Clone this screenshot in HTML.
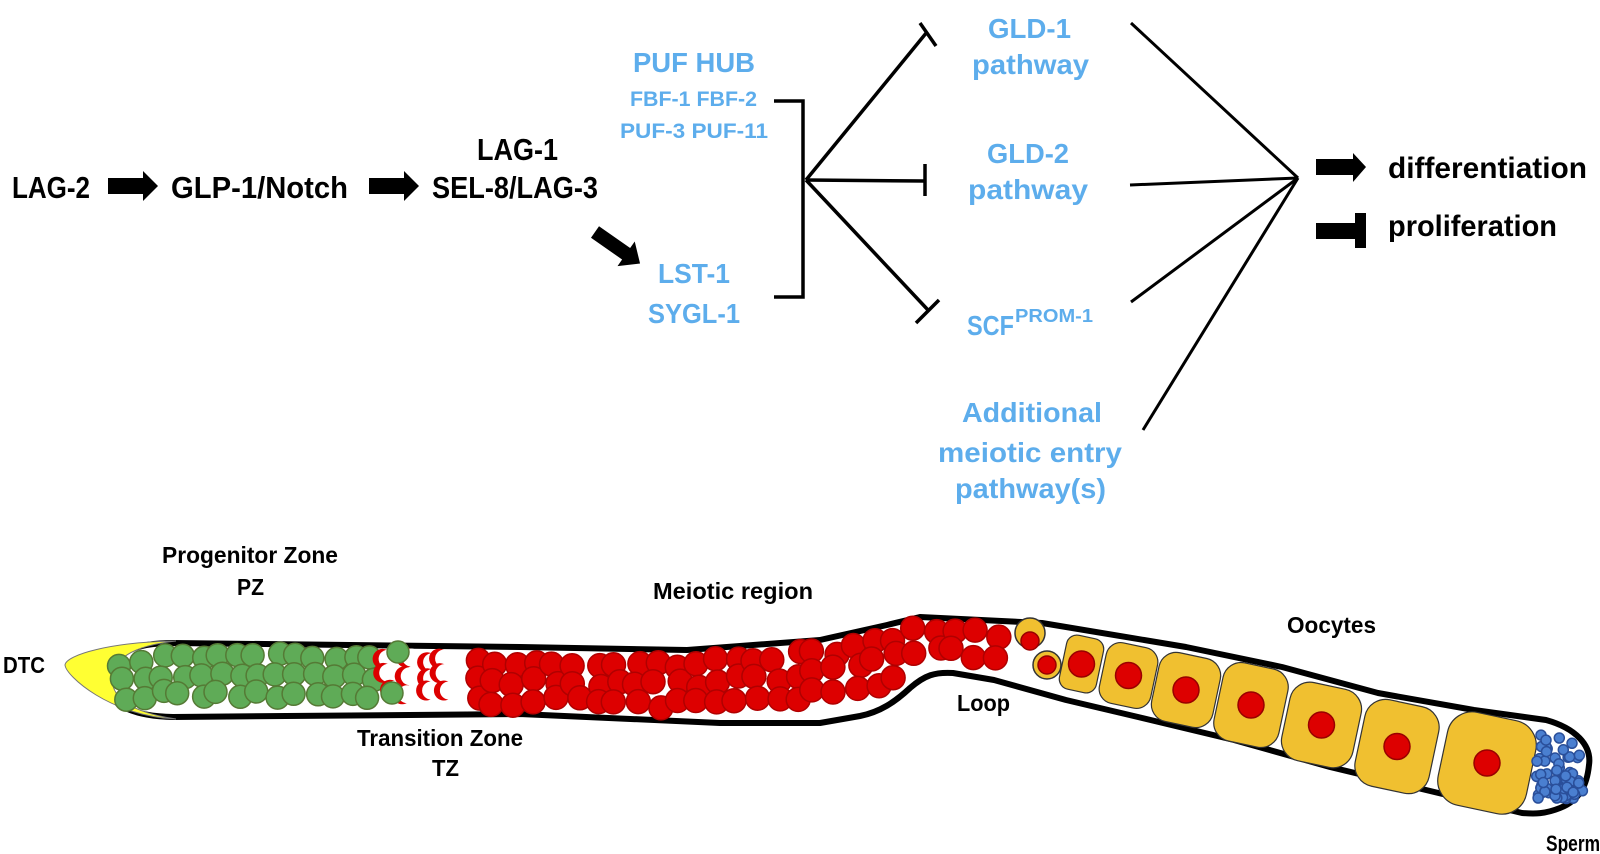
<!DOCTYPE html>
<html><head><meta charset="utf-8"><style>
html,body{margin:0;padding:0;background:#fff;}
svg{display:block;}
text{font-family:"Liberation Sans",sans-serif;font-weight:bold;}
.b{fill:#5DADEC;}
.k{fill:#000;}
</style></head><body>
<svg id="s" width="1600" height="854" viewBox="0 0 1600 854" xmlns="http://www.w3.org/2000/svg">
<g stroke="#000" fill="none" stroke-width="3.5">
<polyline points="774,101 803,101 803,297 774,297"/>
<line x1="806" y1="180" x2="927" y2="32"/>
<line x1="920" y1="23" x2="936" y2="46"/>
<line x1="806" y1="180" x2="925" y2="181"/>
<line x1="925" y1="164" x2="925" y2="196"/>
<line x1="806" y1="180" x2="928" y2="310"/>
<line x1="916" y1="323" x2="939" y2="300"/>
<g stroke-width="3">
<line x1="1131" y1="23" x2="1298" y2="178"/>
<line x1="1130" y1="185" x2="1298" y2="178"/>
<line x1="1131" y1="302" x2="1298" y2="178"/>
<line x1="1143" y1="430" x2="1298" y2="178"/>
</g>
</g>
<g fill="#000">
<polygon points="108,178 143,178 143,171 158,186 143,201 143,194 108,194"/>
<polygon points="369,178 404,178 404,171 419,186 404,201 404,194 369,194"/>
<polygon transform="translate(595,232) rotate(35)" points="0,-7 38,-7 38,-15 55,0 38,15 38,7 0,7"/>
<polygon points="1316,159 1353,159 1353,153 1366,167 1353,182 1353,175 1316,175"/>
<rect x="1316" y="223" width="42" height="16"/>
<rect x="1355" y="213" width="11" height="35"/>
</g>
<g class="k">
<text x="12" y="198" font-size="31" textLength="78" lengthAdjust="spacingAndGlyphs">LAG-2</text>
<text x="171" y="198" font-size="31" textLength="177" lengthAdjust="spacingAndGlyphs">GLP-1/Notch</text>
<text x="477" y="160" font-size="31" textLength="81" lengthAdjust="spacingAndGlyphs">LAG-1</text>
<text x="432" y="198" font-size="31" textLength="166" lengthAdjust="spacingAndGlyphs">SEL-8/LAG-3</text>
<text x="1388" y="178" font-size="30" textLength="199" lengthAdjust="spacingAndGlyphs">differentiation</text>
<text x="1388" y="236" font-size="30" textLength="169" lengthAdjust="spacingAndGlyphs">proliferation</text>
<text x="162" y="563" font-size="23" textLength="176" lengthAdjust="spacingAndGlyphs">Progenitor Zone</text>
<text x="237" y="595" font-size="23" textLength="27" lengthAdjust="spacingAndGlyphs">PZ</text>
<text x="3" y="673" font-size="23" textLength="42" lengthAdjust="spacingAndGlyphs">DTC</text>
<text x="653" y="599" font-size="23" textLength="160" lengthAdjust="spacingAndGlyphs">Meiotic region</text>
<text x="357" y="746" font-size="23" textLength="166" lengthAdjust="spacingAndGlyphs">Transition Zone</text>
<text x="432" y="776" font-size="23" textLength="27" lengthAdjust="spacingAndGlyphs">TZ</text>
<text x="957" y="711" font-size="23" textLength="53" lengthAdjust="spacingAndGlyphs">Loop</text>
<text x="1287" y="633" font-size="23" textLength="89" lengthAdjust="spacingAndGlyphs">Oocytes</text>
<text x="1546" y="851" font-size="22" textLength="54" lengthAdjust="spacingAndGlyphs">Sperm</text>
</g>
<g class="b">
<text x="633" y="72" font-size="28" textLength="122" lengthAdjust="spacingAndGlyphs">PUF HUB</text>
<text x="630" y="106" font-size="21" textLength="127" lengthAdjust="spacingAndGlyphs">FBF-1 FBF-2</text>
<text x="620" y="138" font-size="21" textLength="148" lengthAdjust="spacingAndGlyphs">PUF-3 PUF-11</text>
<text x="658" y="283" font-size="28" textLength="72" lengthAdjust="spacingAndGlyphs">LST-1</text>
<text x="648" y="323" font-size="28" textLength="92" lengthAdjust="spacingAndGlyphs">SYGL-1</text>
<text x="988" y="38" font-size="28" textLength="83" lengthAdjust="spacingAndGlyphs">GLD-1</text>
<text x="972" y="74" font-size="28" textLength="117" lengthAdjust="spacingAndGlyphs">pathway</text>
<text x="987" y="163" font-size="28" textLength="82" lengthAdjust="spacingAndGlyphs">GLD-2</text>
<text x="968" y="199" font-size="28" textLength="120" lengthAdjust="spacingAndGlyphs">pathway</text>
<text x="967" y="335" font-size="28" textLength="47" lengthAdjust="spacingAndGlyphs">SCF</text>
<text x="1015" y="322" font-size="18" textLength="78" lengthAdjust="spacingAndGlyphs">PROM-1</text>
<text x="962" y="422" font-size="28" textLength="140" lengthAdjust="spacingAndGlyphs">Additional</text>
<text x="938" y="462" font-size="28" textLength="184" lengthAdjust="spacingAndGlyphs">meiotic entry</text>
<text x="955" y="498" font-size="28" textLength="151" lengthAdjust="spacingAndGlyphs">pathway(s)</text>
</g>
<path d="M173,643 L520,647 L687,650 L820,640 L887,625 L920,617 L1042,623 L1186,647 L1282,667 L1378,693 L1474,710 L1546,720 C1575,728 1592,745 1589,765 C1587,785 1580,800 1560,808 C1545,814 1535,814 1522,813 L1426,790 L1330,767 L1234,740 L1138,717 L1066,700 L994,680 L953,673 C935,672 925,675 910,688 C895,702 880,712 860,716 L820,723 L720,723 L520,714 L173,717 C125,716 105,700 105,680 C105,660 125,643 173,643 Z" fill="#fff" stroke="#000" stroke-width="6" stroke-linejoin="round"/>
<path d="M176,641 C110,642 66,655 65,665 C66,676 110,716 176,719 C130,712 113,698 112,680 C112,660 130,646 176,641 Z" fill="#ffff33" stroke="#777" stroke-width="1"/>
<g id="cells"></g>
</svg>
<script>
(function(){
var seed=7;function r(){seed=(seed*16807)%2147483647;return (seed-1)/2147483646;}
var T=[[105,652],[173,643],[520,647],[687,650],[820,640],[887,625],[920,617],[1042,623]];
var B=[[105,708],[173,717],[520,714],[720,723],[820,723],[870,713],[920,680],[953,673],[1042,695]];
function ip(a,x){for(var i=0;i<a.length-1;i++){if(x>=a[i][0]&&x<=a[i+1][0]){var t=(x-a[i][0])/(a[i+1][0]-a[i][0]);return a[i][1]+t*(a[i+1][1]-a[i][1]);}}return a[a.length-1][1];}
var g=document.getElementById('cells'),out='';
function c(x,y,rad,f,s){out+='<circle cx="'+x.toFixed(1)+'" cy="'+y.toFixed(1)+'" r="'+rad+'" fill="'+f+'"'+(s?' stroke="'+s+'" stroke-width="1.5"':'')+'/>';}
for(var x=124;x<=372;x+=19){var t=ip(T,x)+13,b=ip(B,x)-13;for(var y=t;y<=b+2;y+=18.5){c(x+(r()-0.5)*10,y+(r()-0.5)*8,11.5,'#5fab57','#557a35');}}
for(var x=386;x<=460;x+=19){var t=ip(T,x)+14,b=ip(B,x)-14;for(var y=t;y<=b;y+=16){var xx=x+(r()-0.5)*8,yy=y+(r()-0.5)*6;c(xx,yy,10,'#dd0000');c(xx+5,yy,9,'#fff');}}
c(398,652,11,'#5fab57','#557a35');c(392,693,11,'#5fab57','#557a35');
for(var x=476;x<=1002;x+=20){var t=ip(T,x)+14,b=ip(B,x)-14;for(var y=t;y<=b+1;y+=20){c(x+(r()-0.5)*10,y+(r()-0.5)*9,12,'#dd0000','#b00000');}}
c(1030,633,15,'#f0c030','#333');c(1030,641,9,'#dd0000','#900');
c(1047,665,14,'#f0c030','#333');c(1047,665,9,'#dd0000','#900');
var O=[[1061,1102,635,693],[1100,1157,643,708],[1152,1220,653,727],[1215,1287,663,747],[1282,1361,683,767],[1356,1438,700,793],[1438,1536,713,813]];
O.forEach(function(o){var cx=(o[0]+o[1])/2,cy=(o[2]+o[3])/2,w=(o[1]-o[0])*0.92,h=(o[3]-o[2])*0.95;
out+='<rect x="'+(cx-w/2)+'" y="'+(cy-h/2)+'" width="'+w+'" height="'+h+'" rx="'+(w*0.28)+'" fill="#f0c030" stroke="#333" stroke-width="1.2" transform="rotate(12 '+cx+' '+cy+')"/>';
c(cx,cy,13,'#dd0000','#900');});
for(var i=0;i<60;i++){var y=735+r()*66,x=1536+r()*(y<745||y>795?38:47);c(x,y,5,'#4a7fd0','#2a4f9a');}
g.innerHTML=out;
})();
</script>
</body></html>
